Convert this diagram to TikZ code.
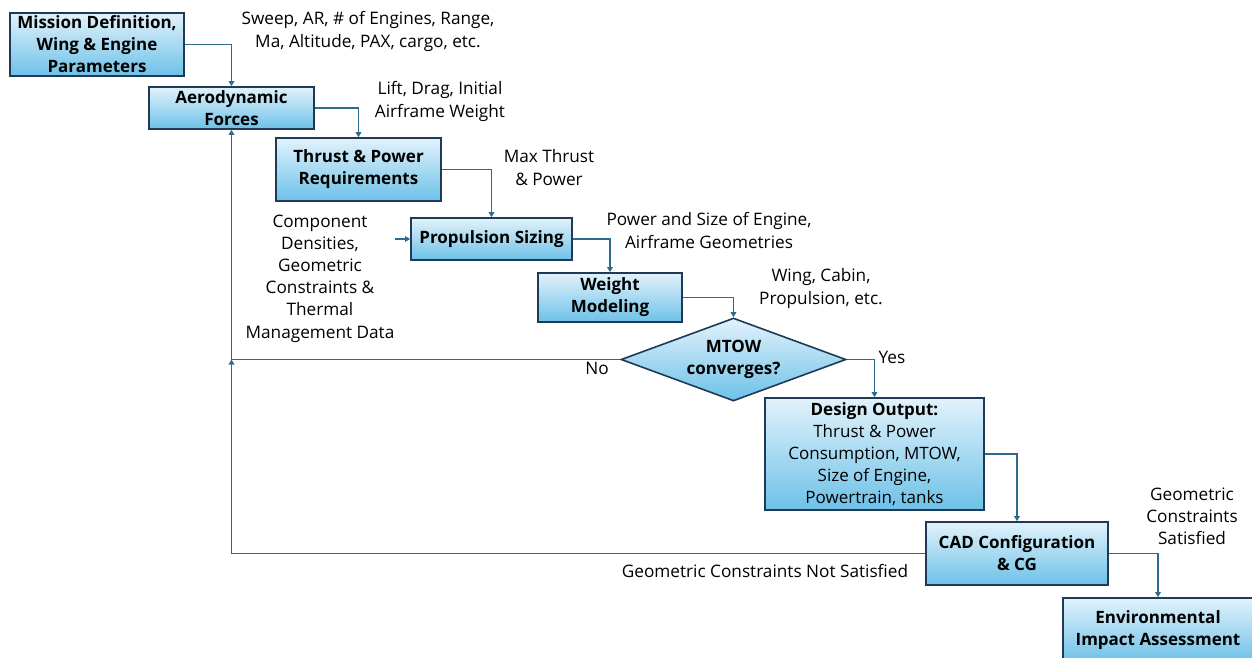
\documentclass[tikz,border=0pt]{standalone}
\usepackage{fontspec}
\setmainfont{Open Sans}
\usetikzlibrary{arrows.meta,shapes.geometric,positioning}
\definecolor{boxedge}{HTML}{1F3A56}
\definecolor{boxtop}{HTML}{E2F2FB}
\definecolor{boxbot}{HTML}{6DC1E8}
\definecolor{linkc}{HTML}{2E6A8E}
\tikzset{
  stage/.style={draw=boxedge, line width=1.6pt, top color=boxtop, bottom color=boxbot,
    align=center, inner sep=0pt, font=\fontsize{17}{22}\selectfont\bfseries},
  decide/.style={stage, diamond, aspect=2.71},
  note/.style={align=center, inner sep=0pt, font=\fontsize{17.2}{22.2}\selectfont},
  conn/.style={draw=linkc, line width=1.5pt, -{Triangle[width=5.5pt,length=5pt]}},
}
\begin{document}
\begin{tikzpicture}[x=1pt,y=-1pt]
\useasboundingbox (0,0) rectangle (1252,657);
\fill[white] (0,0) rectangle (1252,657);

% process stages
\node[stage, minimum width=174pt, minimum height=63pt] (mission) at (97,44.5)
  {Mission Definition,\\Wing \& Engine\\Parameters};
\node[stage, minimum width=165pt, minimum height=42pt] (aero) at (231.5,108)
  {Aerodynamic\\Forces};
\node[stage, minimum width=165pt, minimum height=63pt] (thrust) at (358.5,169.5)
  {Thrust \& Power\\Requirements};
\node[stage, minimum width=161pt, minimum height=42pt] (prop) at (491.5,239)
  {Propulsion Sizing};
\node[stage, minimum width=144pt, minimum height=49pt] (weight) at (610,297.5)
  {Weight\\Modeling};
\node[decide, minimum width=225pt, minimum height=83pt] (dec) at (733.5,359.5)
  {MTOW\\converges?};
\node[stage, minimum width=219pt, minimum height=112pt] (design) at (874.5,454)
  {Design Output:\\{\mdseries Thrust \& Power}\\{\mdseries Consumption, MTOW,}\\{\mdseries Size of Engine,}\\{\mdseries Powertrain, tanks}};
\node[stage, minimum width=182pt, minimum height=63pt] (cad) at (1017,553.5)
  {CAD Configuration\\\& CG};
\node[stage, minimum width=190pt, minimum height=64pt] (env) at (1158,630)
  {Environmental\\Impact Assessment};

% data passed between stages
\node[note] (n1) at (368,31.5) {Sweep, AR, \# of Engines, Range,\\Ma, Altitude, PAX, cargo, etc.};
\node[note] (n2) at (440,101.5) {Lift, Drag, Initial\\Airframe Weight};
\node[note] (n3) at (549,167.5) {Max Thrust\\\& Power};
\node[note] (n4) at (320,278.5) {Component\\Densities,\\Geometric\\Constraints \&\\Thermal\\Management Data};
\node[note] (n5) at (709,230.5) {Power and Size of Engine,\\Airframe Geometries};
\node[note] (n6) at (821,288.5) {Wing, Cabin,\\Propulsion, etc.};
\node[note] (no) at (597,368.5) {No};
\node[note] (yes) at (892,357.5) {Yes};
\node[note] (n7) at (1192,516.5) {Geometric\\Constraints\\Satisfied};
\node[note] (n8) at (765,570.5) {Geometric Constraints Not Satisfied};

% main flow
\draw[conn] (mission.east) -| (aero.north);
\draw[conn] (aero.east) -| (thrust.north);
\draw[conn] (thrust.east) -| (prop.north);
\draw[conn] (prop.east) -| (weight.north);
\draw[conn] (weight.east) -| (dec.north);
\draw[conn] (dec.east) -| (design.north);
\draw[conn] (design.east) -| (cad.north);
\draw[conn] (cad.east) -| (env.north);

% component data input
\coordinate (datain) at (395,239);
\draw[conn] (datain) -- (prop.west);

% feedback loops
\coordinate (loopjoin) at (aero.south |- dec.west);
\draw[conn] (dec.west) -- (loopjoin) -- (aero.south);
\draw[conn] (cad.west) -| (loopjoin);
\end{tikzpicture}
\end{document}
